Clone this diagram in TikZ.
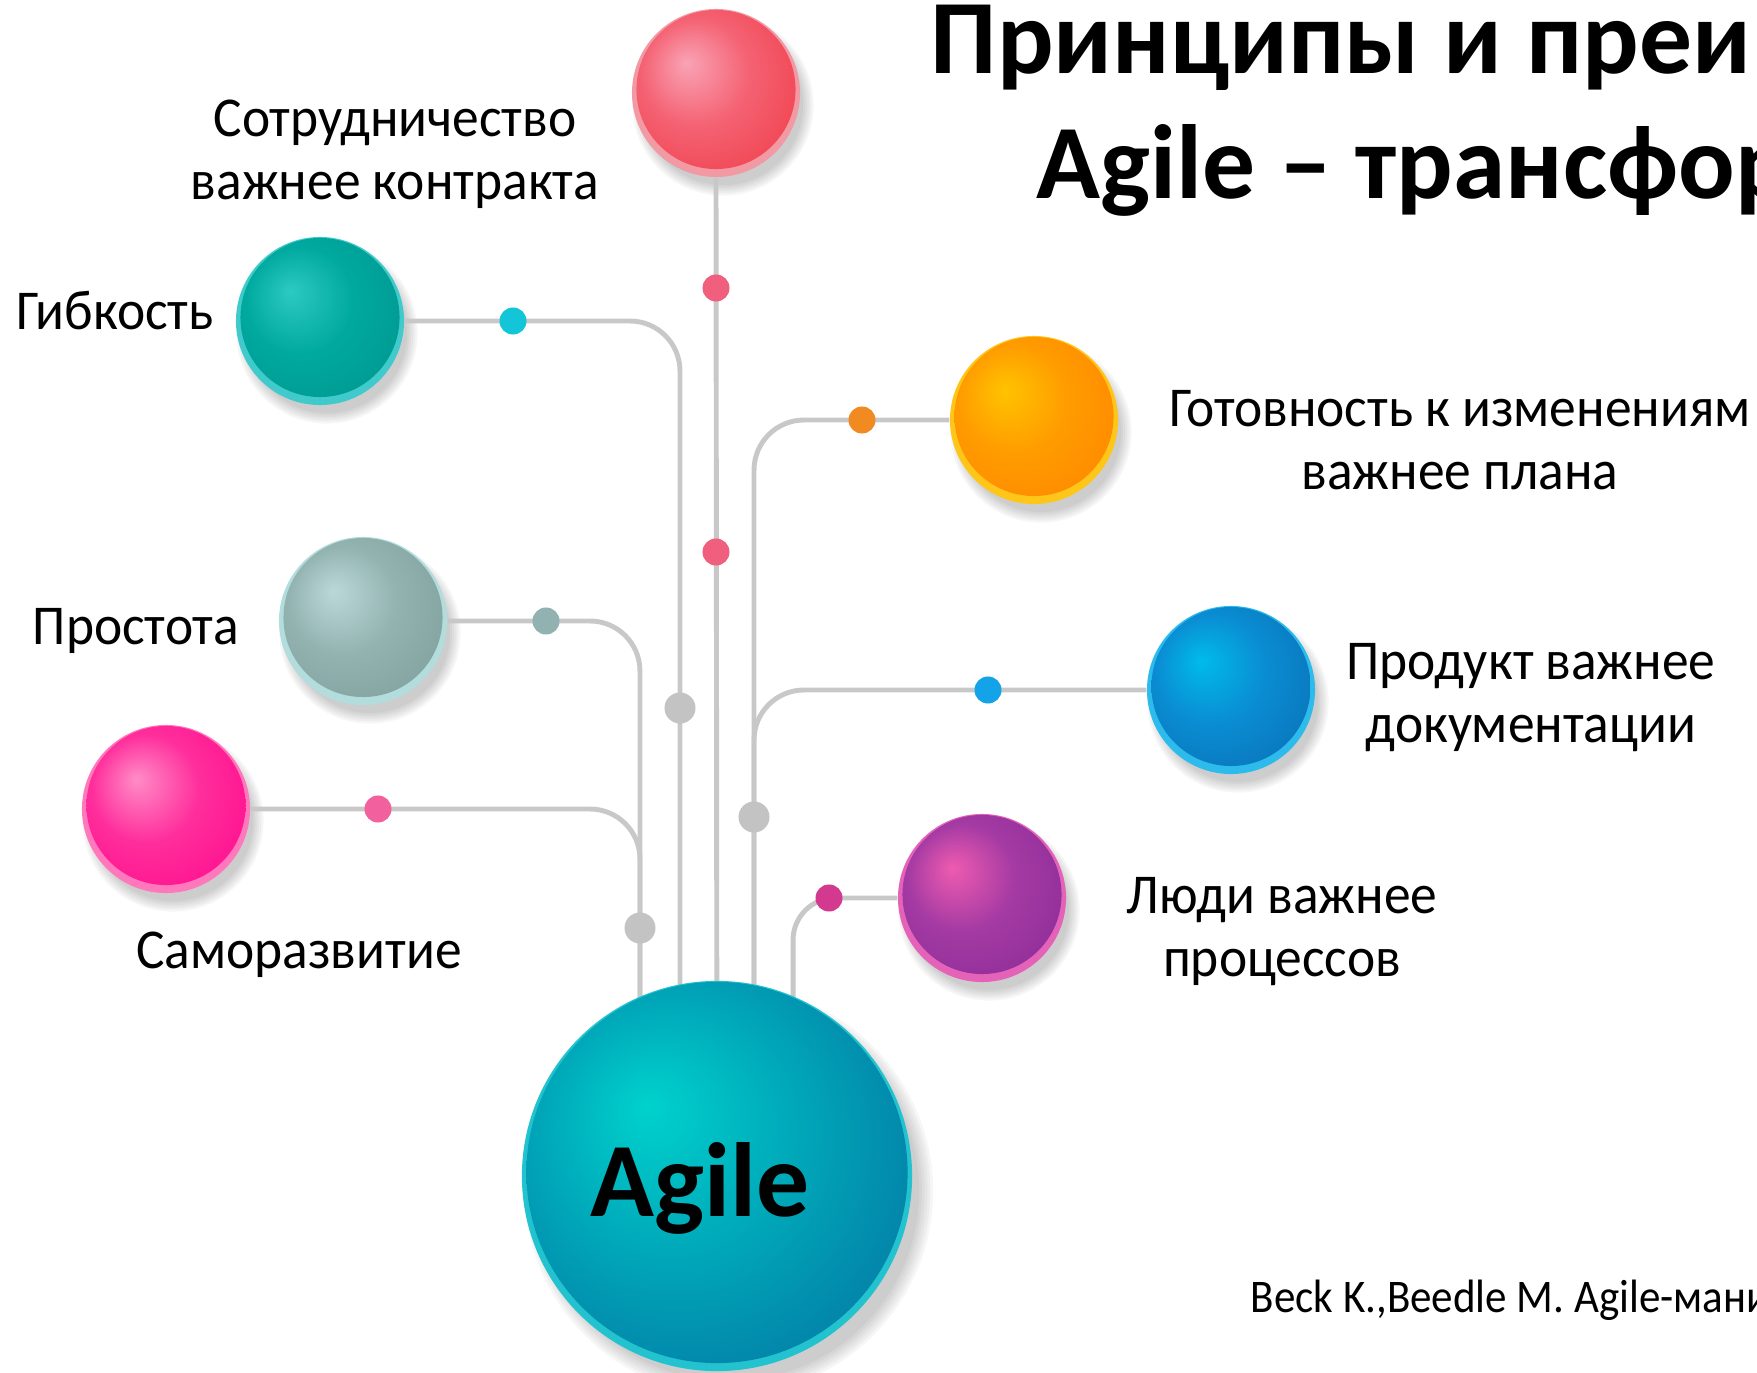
\documentclass[tikz,border=0pt]{standalone}
\usepackage{fontspec}
\setmainfont{Carlito}
\newfontfamily\labelfont{Carlito}[FakeStretch=0.95]
\newfontfamily\citefont{Carlito}[FakeStretch=0.92]
\usetikzlibrary{calc,backgrounds}

\definecolor{wiregrey}{HTML}{C8C8C8}
\definecolor{redHi}{HTML}{F9A3B5}\definecolor{redMid}{HTML}{F46273}\definecolor{redEdge}{HTML}{F03C48}\definecolor{redRim}{HTML}{F29AA4}
\definecolor{tealHi}{HTML}{2CC9C2}\definecolor{tealMid}{HTML}{00A99F}\definecolor{tealEdge}{HTML}{00958E}\definecolor{tealRim}{HTML}{40CACB}
\definecolor{orangeHi}{HTML}{FFC300}\definecolor{orangeMid}{HTML}{FF9C00}\definecolor{orangeEdge}{HTML}{FF8500}\definecolor{orangeRim}{HTML}{FFC61A}
\definecolor{sageHi}{HTML}{BAD8D7}\definecolor{sageMid}{HTML}{93B3B1}\definecolor{sageEdge}{HTML}{7E9E9C}\definecolor{sageRim}{HTML}{B3DCDC}
\definecolor{blueHi}{HTML}{00BBEA}\definecolor{blueMid}{HTML}{0A8DD3}\definecolor{blueEdge}{HTML}{0A6FB5}\definecolor{blueRim}{HTML}{2DBBEB}
\definecolor{pinkHi}{HTML}{FF8CC6}\definecolor{pinkMid}{HTML}{FF2E9C}\definecolor{pinkEdge}{HTML}{FF0A8C}\definecolor{pinkRim}{HTML}{FF78BC}
\definecolor{plumHi}{HTML}{EE5BB0}\definecolor{plumMid}{HTML}{A43AA3}\definecolor{plumEdge}{HTML}{8B2B97}\definecolor{plumRim}{HTML}{E463B8}
\definecolor{hubHi}{HTML}{00D2CD}\definecolor{hubMid}{HTML}{00A8B9}\definecolor{hubEdge}{HTML}{0475A3}\definecolor{hubRim}{HTML}{22C2CF}
\definecolor{dotRed}{HTML}{F0607E}\definecolor{dotCyan}{HTML}{12C6D8}\definecolor{dotSage}{HTML}{92B2B1}
\definecolor{dotPink}{HTML}{F2609E}\definecolor{dotOrange}{HTML}{F28A22}\definecolor{dotBlue}{HTML}{14A3E8}
\definecolor{dotPlum}{HTML}{D2398F}\definecolor{dotGrey}{HTML}{C3C3C3}

\colorlet{bhi}{white}\colorlet{bmid}{gray}\colorlet{bedge}{black}
\pgfdeclareradialshading[bhi,bmid,bedge]{ballshade}{\pgfpoint{-9bp}{9bp}}{%
  color(0bp)=(bhi); color(16bp)=(bmid); color(36bp)=(bedge); color(50bp)=(bedge)}

\begin{document}
\begin{tikzpicture}[
        x=0.01cm, y=-0.01cm,
        ball/.style 2 args={circle, inner sep=0pt, minimum size=2*#2, fill=#1Rim,
            path picture={
                \colorlet{bhi}{#1Hi}\colorlet{bmid}{#1Mid}\colorlet{bedge}{#1Edge}
                \shade[shading=ballshade] ([yshift=0.035cm]path picture bounding box.center) circle ({#2-0.045cm});
            }},
        small/.style={ball={#1}{0.84cm}},
        wire/.style={draw=wiregrey, line width=1.4pt, rounded corners=0.5cm},
        dot/.style={circle, inner sep=0pt, minimum size=0.27cm, fill=#1},
        knot/.style={circle, inner sep=0pt, minimum size=0.31cm, fill=dotGrey},
        label/.style={font=\labelfont\fontsize{16}{17.9}\selectfont, align=center, inner sep=0pt}
    ]
    \useasboundingbox (0,0) rectangle (1757,1373);
    \clip (0,0) rectangle (1757,1373);

    % balls
    \node[small=red]    (collab)  at (716,93)   {};
    \node[small=teal]   (flex)    at (320,321)  {};
    \node[small=orange] (ready)   at (1034,420) {};
    \node[small=sage]   (simple)  at (363,621)  {};
    \node[small=blue]   (product) at (1231,690) {};
    \node[small=pink]   (self)    at (166,809)  {};
    \node[small=plum]   (people)  at (982,898)  {};
    \node[ball={hub}{1.95cm}] (agile) at (717,1176) {};

    % shadows and wires
    \begin{scope}[on background layer]
        \foreach \n in {collab,flex,ready,simple,product,self,people}
            \foreach \k in {0,...,5}
                \fill[black,opacity=.035] ([shift={(0.07cm,-0.12cm)}]\n.center) circle ({0.80cm+\k*0.6pt});
        \foreach \k in {0,...,5}
            \fill[black,opacity=.035] ([shift={(0.12cm,-0.15cm)}]agile.center) circle ({1.90cm+\k*0.8pt});

        \draw[wire] (collab.south) -- (agile.center);
        \draw[wire] (flex.east) -| ([xshift=-0.37cm]agile.center);
        \draw[wire] (simple.east) -| ([xshift=-0.77cm]agile.center);
        \draw[wire] (self.east) -| ([xshift=-0.77cm]agile.center);
        \draw[wire] (ready.west) -| ([xshift=0.37cm]agile.center);
        \draw[wire] (product.west) -| ([xshift=0.37cm]agile.center);
        \draw[wire, rounded corners=0.42cm] (people.west) -| ([xshift=0.76cm]agile.center);
    \end{scope}

    % dots
    \node[dot=dotRed]    (r1) at (716,288) {};
    \node[dot=dotRed]    (r2) at (716,552) {};
    \node[dot=dotCyan]   (f1) at (513,321) {};
    \node[dot=dotSage]   (s1) at (546,621) {};
    \node[dot=dotPink]   (d1) at (378,809) {};
    \node[dot=dotOrange] (o1) at (862,420) {};
    \node[dot=dotBlue]   (b1) at (988,690) {};
    \node[dot=dotPlum]   (p1) at (829,898) {};
    \node[knot] (k1) at (680,708) {};
    \node[knot] (k2) at (640,928) {};
    \node[knot] (k3) at (754,817) {};

    % labels
    \node[label] (collabtext)  at (395,154)  {Сотрудничество\\важнее контракта};
    \node[label] (flextext)    at (115,311)  {Гибкость};
    \node[label] (readytext)   at (1460,440) {Готовность к изменениям\\важнее плана};
    \node[label] (simpletext)  at (136,631)  {Простота};
    \node[label] (producttext) at (1531,698) {Продукт важнее\\документации};
    \node[label] (selftext)    at (299,955)  {Саморазвитие};
    \node[label] (peopletext)  at (1282,932) {Люди важнее\\процессов};
    \node[font=\fontsize{30}{36}\bfseries\selectfont] (agiletext) at (700,1188) {Agile};

    % title and source
    \node[anchor=base west, inner sep=0pt, font=\fontsize{30}{36}\bfseries\selectfont] (title1) at (930,74) {Принципы и преи};
    \node[anchor=base west, inner sep=0pt, font=\fontsize{30}{36}\bfseries\selectfont] (title2) at (1036,199) {Agile – трансфор};
    \node[anchor=west, inner sep=0pt, font=\citefont\fontsize{13.3}{16}\selectfont] (source) at (1250,1300) {Beck K.,Beedle M. Agile-мани};
\end{tikzpicture}
\end{document}
